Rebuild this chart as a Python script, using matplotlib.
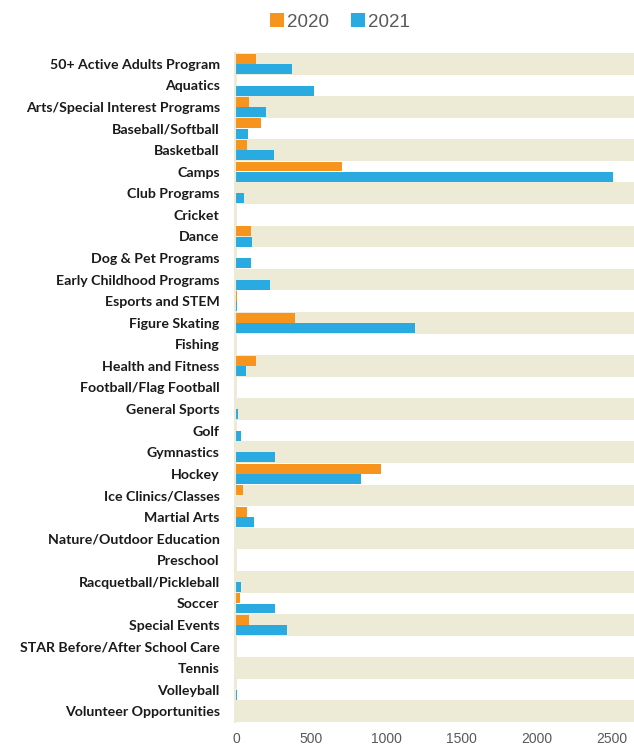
import matplotlib
matplotlib.use("Agg")
import matplotlib.pyplot as plt
import numpy as np

categories = [
    "50+ Active Adults Program", "Aquatics", "Arts/Special Interest Programs",
    "Baseball/Softball", "Basketball", "Camps", "Club Programs", "Cricket",
    "Dance", "Dog & Pet Programs", "Early Childhood Programs", "Esports and STEM",
    "Figure Skating", "Fishing", "Health and Fitness", "Football/Flag Football",
    "General Sports", "Golf", "Gymnastics", "Hockey", "Ice Clinics/Classes",
    "Martial Arts", "Nature/Outdoor Education", "Preschool",
    "Racquetball/Pickleball", "Soccer", "Special Events",
    "STAR Before/After School Care", "Tennis", "Volleyball",
    "Volunteer Opportunities",
]
values_2020 = [131, 0, 82, 167, 73, 707, 0, 0, 98, 0, 0, 4, 389, 0, 133, 0,
               0, 0, 0, 967, 42, 69, 0, 0, 0, 27, 82, 0, 0, 0, 0]
values_2021 = [375, 518, 198, 78, 249, 2511, 49, 0, 105, 100, 222, 3, 1193, 0, 67, 0,
               15, 33, 260, 829, 0, 120, 0, 0, 31, 260, 340, 0, 0, 2, 0]
xticks = [0, 500, 1000, 1500, 2000, 2500]
series_names = ["2020", "2021"]

c2020 = "#F7941D"
c2021 = "#29ABE2"
band = "#EDEBD6"

fig = plt.figure(figsize=(6.34, 7.5), dpi=100)
ax = fig.add_axes([235 / 634, 28 / 750, 1 - 235 / 634, (722 - 53) / 750])

n = len(categories)
y = np.arange(n)
for i in range(0, n, 2):
    ax.axhspan(i - 0.5, i + 0.5, color=band, zorder=0, lw=0)

h = 0.46
ax.barh(y - h / 2 - 0.01, values_2020, height=h, color=c2020,
        linewidth=0, zorder=2, label=series_names[0])
ax.barh(y + h / 2 + 0.01, values_2021, height=h, color=c2021,
        linewidth=0, zorder=2, label=series_names[1])

ax.set_ylim(n - 0.5, -0.5)
ax.set_xlim(-8, 2650)
ax.set_yticks(y)
ax.set_yticklabels(categories, fontfamily="Lato", fontweight="bold", fontsize=10.2,
                   color="#1a1a1a")
ax.set_xticks(xticks)
ax.set_xticklabels([str(t) for t in xticks], fontsize=10, color="#595959",
                   fontfamily="Liberation Sans")
ax.tick_params(axis="y", length=0, pad=11)
ax.tick_params(axis="x", length=0, pad=7)
for s in ["top", "right", "bottom"]:
    ax.spines[s].set_visible(False)
ax.spines["left"].set_color(band)
ax.spines["left"].set_linewidth(1.5)
ax.axvline(-8, color=band, lw=2, zorder=1)

leg = fig.legend(loc="center", bbox_to_anchor=(340 / 634, 1 - 22 / 750), ncol=2,
                 frameon=False, handlelength=0.75, handleheight=0.75,
                 handletextpad=0.15, columnspacing=1.2,
                 prop={"family": "Liberation Sans", "size": 13.5})
for t in leg.get_texts():
    t.set_color("#595959")

fig.savefig("out.png", dpi=100, facecolor="white")
